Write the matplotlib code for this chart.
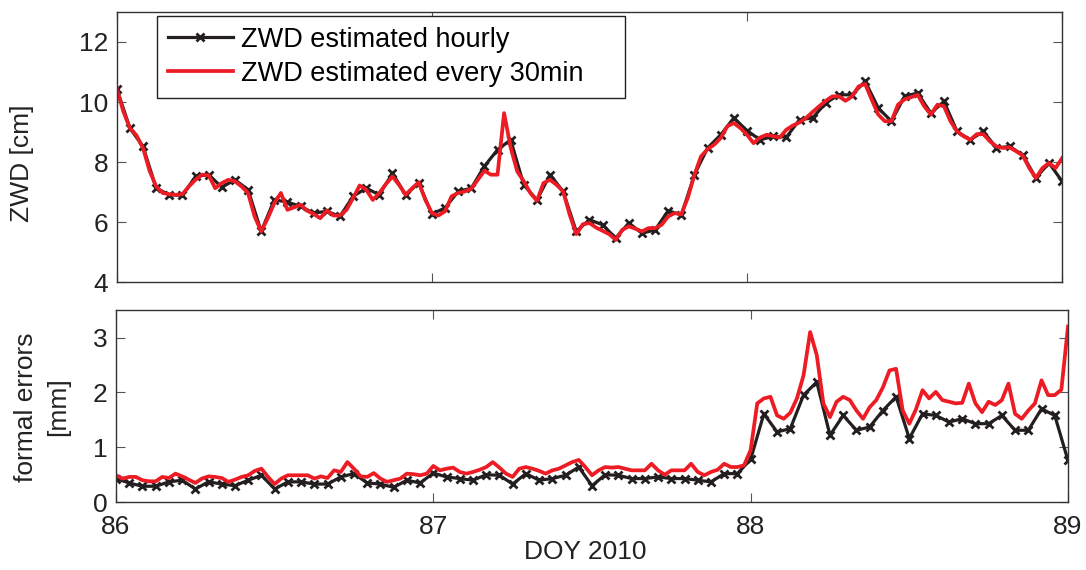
import numpy as np
import matplotlib
matplotlib.use('Agg')
import matplotlib.pyplot as plt

plt.rcParams['font.family'] = ['Liberation Sans', 'DejaVu Sans']

# hourly and 30 min epochs (DOY 2010)
t_hourly = np.linspace(86, 89, 73)
t_30min = np.linspace(86, 89, 145)

# ZWD [cm], hourly estimation
zwd_hourly = [10.45, 9.13, 8.52, 7.13, 6.91, 6.89, 7.52, 7.58, 7.16, 7.41, 7.08, 5.69,
              6.74, 6.67, 6.52, 6.30, 6.36, 6.19, 6.86, 7.13, 6.91, 7.63, 6.91, 7.30,
              6.27, 6.47, 7.02, 7.13, 7.86, 8.41, 8.74, 7.24, 6.74, 7.58, 7.02, 5.69,
              6.08, 5.91, 5.47, 5.97, 5.63, 5.74, 6.38, 6.24, 7.58, 8.47, 8.91, 9.47,
              9.05, 8.74, 8.86, 8.83, 9.41, 9.47, 9.97, 10.24, 10.24, 10.69, 9.80, 9.36,
              10.19, 10.30, 9.63, 10.02, 9.02, 8.74, 9.02, 8.47, 8.52, 8.24, 7.47, 7.97,
              7.36]

# ZWD [cm], estimation every 30 min
zwd_30min = [10.45, 9.69, 9.13, 8.89, 8.47, 7.71, 7.19, 6.97, 6.93, 6.91, 6.93, 7.19,
             7.41, 7.58, 7.56, 7.13, 7.30, 7.41, 7.36, 7.19, 6.97, 6.19, 5.69, 6.13,
             6.63, 6.97, 6.41, 6.49, 6.58, 6.38, 6.27, 6.13, 6.39, 6.22, 6.22, 6.41,
             6.80, 7.22, 7.08, 6.74, 6.97, 7.27, 7.52, 7.24, 6.91, 7.13, 7.33, 6.74,
             6.30,
             6.22, 6.36, 6.86, 6.97, 7.02, 7.11, 7.41, 7.71, 7.58, 7.58, 9.63, 8.49,
             7.69, 7.36, 6.97, 6.71, 7.30, 7.41, 7.24, 7.02, 6.24, 5.60, 5.93, 5.97,
             5.82, 5.71, 5.60, 5.41, 5.74, 5.86, 5.78, 5.69, 5.80, 5.80, 5.91, 6.19,
             6.30, 6.26, 6.82, 7.58, 8.19, 8.43, 8.58, 8.80, 9.19, 9.30, 9.13, 8.91,
             8.63, 8.82, 8.91, 8.86, 8.82, 9.08, 9.22, 9.32, 9.47, 9.67, 9.86, 10.04,
             10.19, 10.19, 10.04, 10.19, 10.52, 10.60, 10.08, 9.58, 9.36, 9.36, 9.91, 10.09,
             10.16, 10.24, 9.86, 9.58, 9.91, 9.86, 9.36, 9.02, 8.86, 8.74, 8.93, 8.93,
             8.69, 8.52, 8.47, 8.49, 8.36, 8.22, 7.80, 7.47, 7.80, 7.97, 7.80, 8.13]

# formal errors [mm]
err_hourly = [0.43, 0.35, 0.29, 0.29, 0.37, 0.40, 0.24, 0.37, 0.33, 0.30, 0.40, 0.49,
              0.24, 0.37, 0.37, 0.33, 0.33, 0.46, 0.52, 0.35, 0.33, 0.27, 0.40, 0.35,
              0.53, 0.46, 0.43, 0.40, 0.50, 0.49, 0.33, 0.52, 0.40, 0.43, 0.49, 0.64,
              0.30, 0.50, 0.49, 0.43, 0.43, 0.46, 0.43, 0.43, 0.40, 0.37, 0.52, 0.52,
              0.78, 1.61, 1.28, 1.34, 1.95, 2.19, 1.22, 1.58, 1.31, 1.37, 1.67, 1.92,
              1.16, 1.61, 1.58, 1.46, 1.52, 1.43, 1.43, 1.58, 1.31, 1.31, 1.70, 1.58,
              0.76]

err_30min = [0.49, 0.43, 0.46, 0.46, 0.40, 0.38, 0.38, 0.46, 0.44, 0.52, 0.47, 0.41,
             0.35, 0.43, 0.47, 0.46, 0.44, 0.37, 0.41, 0.46, 0.49, 0.57, 0.61, 0.46,
             0.33, 0.43, 0.49, 0.49, 0.49, 0.49, 0.43, 0.47, 0.44, 0.58, 0.55, 0.73,
             0.61, 0.47, 0.46, 0.53, 0.43, 0.37, 0.40, 0.43, 0.52, 0.51, 0.49, 0.52,
             0.66,
             0.58, 0.61, 0.63, 0.55, 0.52, 0.55, 0.59, 0.64, 0.73, 0.63, 0.52, 0.46,
             0.61, 0.64, 0.61, 0.57, 0.52, 0.58, 0.61, 0.67, 0.73, 0.77, 0.64, 0.49,
             0.58, 0.64, 0.63, 0.64, 0.61, 0.58, 0.58, 0.58, 0.70, 0.58, 0.50, 0.58,
             0.58, 0.58, 0.70, 0.55, 0.49, 0.55, 0.59, 0.70, 0.64, 0.64, 0.67, 0.95,
             1.80, 1.89, 1.92, 1.58, 1.52, 1.63, 1.89, 2.31, 3.10, 2.68, 1.80, 1.55,
             1.83, 1.92, 1.86, 1.67, 1.52, 1.73, 1.86, 2.09, 2.40, 2.43, 1.67, 1.43,
             1.69, 2.04, 1.89, 2.01, 1.86, 1.83, 1.80, 1.81, 2.16, 1.80, 1.64, 1.83,
             1.77, 1.86, 2.16, 1.61, 1.52, 1.67, 1.80, 2.22, 1.95, 1.95, 2.05, 3.20]

BLACK = '#231f20'
RED = '#ed1c24'
FS = 19

fig = plt.figure(figsize=(10.86, 5.70), dpi=100)
ax1 = fig.add_axes([0.1075, 0.505, 0.8705, 0.474])
ax2 = fig.add_axes([0.1068, 0.119, 0.8766, 0.337])

ax1.plot(t_hourly, zwd_hourly, color=BLACK, lw=2.3, marker='x', ms=6, mew=2,
         label='ZWD estimated hourly')
ax1.plot(t_30min, zwd_30min, color=RED, lw=2.7, label='ZWD estimated every 30min')
ax2.plot(t_hourly, err_hourly, color=BLACK, lw=2.3, marker='x', ms=6, mew=2)
ax2.plot(t_30min, err_30min, color=RED, lw=2.7)

ax1.set_ylim(4, 13)
ax1.set_yticks([4, 6, 8, 10, 12])
ax2.set_ylim(0, 3.5)
ax2.set_yticks([0, 1, 2, 3])
for ax in (ax1, ax2):
    ax.set_xlim(86, 89)
    ax.set_xticks([86, 87, 88, 89])
    ax.tick_params(direction='in', top=True, right=True, length=6.5, width=0.8,
                   color='#555555', labelsize=FS, labelcolor='#222222')
    ax.tick_params(axis='y', pad=6)
    ax.tick_params(axis='x', pad=9)
    for s in ax.spines.values():
        s.set_color('#333333')
        s.set_linewidth(1.0)
ax1.tick_params(labelbottom=False)

leg = ax1.legend(loc='upper left', mode='expand',
                 bbox_to_anchor=(157 / 1086, 1 - 101 / 570, 468 / 1086, 85 / 570),
                 bbox_transform=fig.transFigure, fontsize=19.5, frameon=True,
                 fancybox=False, framealpha=1, edgecolor='#222222', borderaxespad=0,
                 handlelength=2.4, handletextpad=0.3, labelspacing=0.3, borderpad=0.4)
leg.get_frame().set_linewidth(1.0)

fig.text(22 / 1086, 1 - 163 / 570, 'ZWD [cm]', rotation=90, ha='center', va='center',
         fontsize=FS, color='#222222')
fig.text(42 / 1086, 1 - 407 / 570, 'formal errors\n[mm]', rotation=90, ha='center',
         va='center', fontsize=FS, color='#222222', linespacing=1.4,
         multialignment='center')
fig.text(585 / 1086, 1 - 552 / 570, 'DOY 2010', ha='center', va='center',
         fontsize=FS, color='#222222')

fig.savefig('out.png', dpi=100)
